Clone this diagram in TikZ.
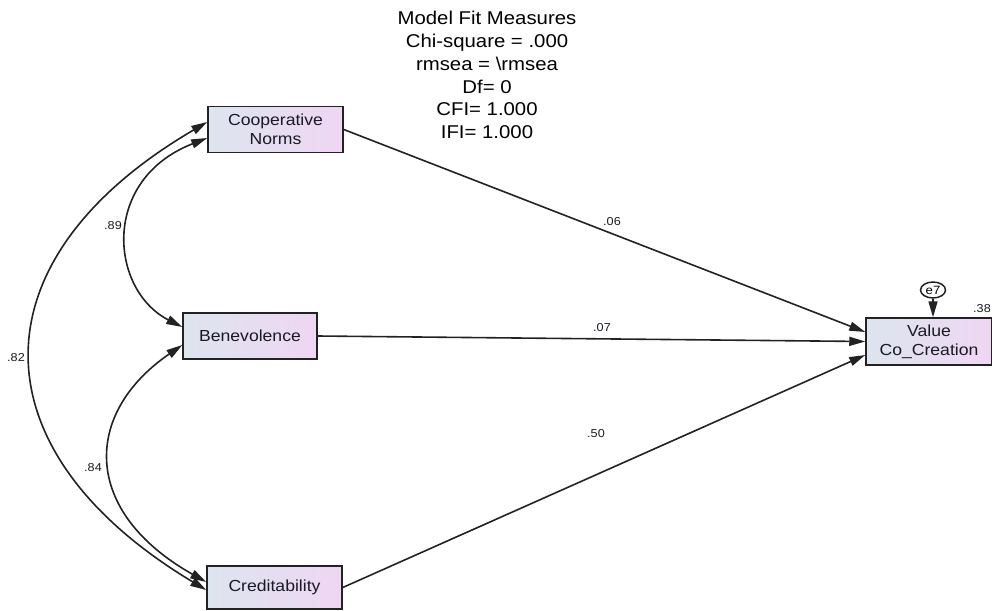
\documentclass[tikz,border=0pt]{standalone}
\usepackage{fontspec}
\setmainfont{Liberation Sans}[FakeStretch=1.1]
\usetikzlibrary{arrows.meta,shapes.geometric}
\definecolor{boxL}{HTML}{DDE5EE}
\definecolor{boxR}{HTML}{EFD6F3}
\definecolor{edge}{HTML}{222222}
\definecolor{ink}{HTML}{1A1A24}
\begin{document}
\begin{tikzpicture}[x=1pt,y=-1pt,
  var/.style={draw=edge, line width=1.5pt, left color=boxL, right color=boxR,
    align=center, text=ink, inner sep=0pt,
    font=\fontsize{16}{19}\selectfont},
  err/.style={draw=edge, line width=1.5pt, ellipse, fill=white, inner sep=0pt,
    minimum width=25pt, minimum height=16pt, font=\fontsize{12}{13}\selectfont},
  path/.style={draw=edge, line width=1.6pt, -{Triangle[length=16pt,width=9pt]}},
  cov/.style={draw=edge, line width=1.6pt,
    {Triangle[length=16pt,width=9pt]}-{Triangle[length=16pt,width=9pt]}},
  coef/.style={font=\fontsize{11.5}{13}\selectfont, inner sep=0pt, text=ink}]
\useasboundingbox (0,0) rectangle (992,610);

% fit summary
\node[align=center, inner sep=0pt, font=\fontsize{18.5}{22.8}\selectfont] (fit) at (487,75)
  {Model Fit Measures\\Chi-square = .000\\rmsea = \textbackslash rmsea\\Df= 0\\CFI= 1.000\\IFI= 1.000};

% observed variables
\node[var, minimum width=135pt, minimum height=46pt] (coop) at (275.5,129.5) {Cooperative\\Norms};
\node[var, minimum width=134pt, minimum height=46pt] (benev) at (250,336) {Benevolence};
\node[var, minimum width=135pt, minimum height=43pt] (cred) at (274.5,587.5) {Creditability};
\node[var, minimum width=126pt, minimum height=47pt] (value) at (929,341.5) {Value\\Co\_Creation};

% error term
\node[err] (e7) at (933,290) {e7};
\draw[path] (e7.south) -- (e7.south |- value.north);

% regression paths
\draw[path] (coop.east) -- ([yshift=9.5pt]value.west);
\draw[path] (benev.east) -- (value.west);
\draw[path] (cred.east) -- ([yshift=-13.5pt]value.west);

% covariances
\draw[cov] ([yshift=9pt]benev.west) .. controls (110,290) and (100,180) .. ([yshift=-8.5pt]coop.west);
\draw[cov] ([yshift=7.5pt]coop.west) .. controls (-27,259) and (-27,450) .. ([yshift=-2.5pt]cred.west);
\draw[cov] ([yshift=-9pt]benev.west) .. controls (82,414) and (82,512) .. ([yshift=5.5pt]cred.west);

% estimates
\node[coef] (c06) at (612,222) {.06};
\node[coef] (c07) at (602,328) {.07};
\node[coef] (c50) at (596,434) {.50};
\node[coef] (c89) at (113,226) {.89};
\node[coef] (c82) at (16,358) {.82};
\node[coef] (c84) at (93,468) {.84};
\node[coef, anchor=east] (c38) at (991,309) {.38};
\end{tikzpicture}
\end{document}
